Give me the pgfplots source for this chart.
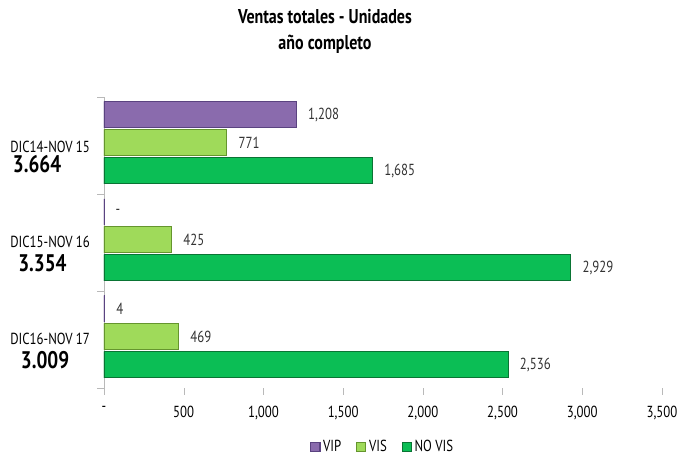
\documentclass[border=0pt]{standalone}
\usepackage{pgfplots}
\pgfplotsset{compat=1.18}
\usepackage{fontspec}
\setmainfont{PT Sans}[FakeStretch=0.8]
\definecolor{vip}{HTML}{8A6BAD}
\definecolor{vipd}{HTML}{5A4380}
\definecolor{vis}{HTML}{9FDA5A}
\definecolor{visd}{HTML}{65952E}
\definecolor{novis}{HTML}{0BBE55}
\definecolor{novisd}{HTML}{0A7434}
\begin{document}
\begin{tikzpicture}
\useasboundingbox (-78pt,-51pt) rectangle (431.25pt,291pt);
\begin{axis}[
  at={(0pt,0pt)}, anchor=south west,
  scale only axis, width=418.5pt, height=218.25pt,
  xbar, bar width=19.5pt,
  xmin=0, xmax=3500, ymin=-0.5, ymax=2.5,
  axis lines*=left,
  x axis line style={draw=none},
  y axis line style={draw=gray!55},
  tick align=outside,
  major tick length=5pt,
  tick style={draw=gray!55},
  xtick={0,500,...,3500},
  xticklabels={-,500,{1,000},{1,500},{2,000},{2,500},{3,000},{3,500}},
  xticklabel style={yshift=-5pt},
  ytick={-0.5,0.5,1.5,2.5},
  yticklabels={{},{},{},{}},
  extra y ticks={0,1,2},
  extra y tick labels={{DIC16-NOV 17\\[4.5pt]\hspace*{8pt}{\bfseries\fontsize{18}{19}\selectfont 3.009}},
                       {DIC15-NOV 16\\[3.5pt]\hspace*{6pt}{\bfseries\fontsize{18}{19}\selectfont 3.354}},
                       {DIC14-NOV 15\\[1.5pt]\hspace*{2pt}{\bfseries\fontsize{18}{19}\selectfont 3.664}}},
  extra y tick style={major tick length=0pt, tick style={draw=none},
     yticklabel style={align=left, xshift=-7pt, yshift=-8.5pt, font=\fontsize{12}{14}\selectfont}},
  ticklabel style={font=\fontsize{12}{14}\selectfont},
  /pgf/number format/assume math mode=true,
  point meta=explicit symbolic,
  nodes near coords,
  nodes near coords style={anchor=west, xshift=5pt, font=\fontsize{12}{14}\selectfont, text=black!80},
  title={Ventas totales - Unidades\\año completo},
  title style={at={(0.396,1.199)}, anchor=center, align=center, font=\bfseries\fontsize{15}{19.5}\selectfont},
  legend style={at={(0.5,-0.203)}, anchor=center, legend columns=-1, draw=none,
     font=\fontsize{12}{14}\selectfont, /tikz/every even column/.append style={column sep=9pt}},
  legend image code/.code={\draw[#1] (0pt,-3.5pt) rectangle (7pt,3.5pt);},
]
\addplot[fill=vip, draw=vipd, line width=0.8pt, bar shift=23pt]
  coordinates {(4,0) [4] (0,1) [-] (1208,2) [{1,208}]};
\addplot[fill=vis, draw=visd, line width=0.8pt, bar shift=2pt]
  coordinates {(469,0) [469] (425,1) [425] (771,2) [771]};
\addplot[fill=novis, draw=novisd, line width=0.8pt, bar shift=-19pt]
  coordinates {(2536,0) [{2,536}] (2929,1) [{2,929}] (1685,2) [{1,685}]};
\legend{VIP,VIS,NO VIS}
\end{axis}
\end{tikzpicture}
\end{document}
